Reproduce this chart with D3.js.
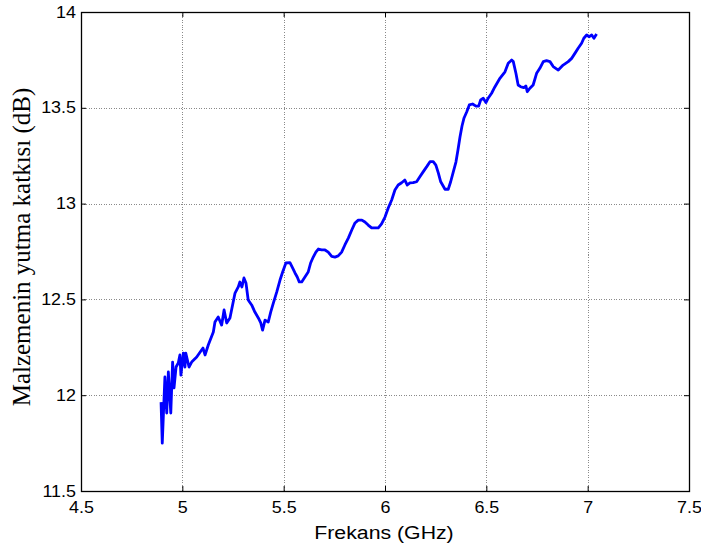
<!DOCTYPE html>
<html>
<head>
<meta charset="utf-8">
<script src="https://cdn.jsdelivr.net/npm/d3@7"></script>
<style>
  html, body { margin: 0; padding: 0; background: #fff; }
  svg { display: block; }
</style>
</head>
<body>
<svg id="chart" width="701" height="549"></svg>
<script>
// Measured absorption curve: frequency (GHz) and value (dB)
const freqGHz = [
  4.895, 4.901, 4.914, 4.923, 4.931, 4.943, 4.952, 4.959, 4.969, 4.980,
  4.988, 4.993, 5.005, 5.013, 5.017, 5.033, 5.046, 5.071, 5.095, 5.102,
  5.112, 5.128, 5.153, 5.161, 5.177, 5.194, 5.206, 5.219, 5.235, 5.260,
  5.276, 5.284, 5.294, 5.304, 5.314, 5.325, 5.342, 5.358, 5.375, 5.387,
  5.396, 5.408, 5.424, 5.436, 5.449, 5.466, 5.482, 5.495, 5.511, 5.531,
  5.544, 5.556, 5.567, 5.577, 5.589, 5.605, 5.621, 5.633, 5.646, 5.659,
  5.671, 5.687, 5.704, 5.720, 5.737, 5.753, 5.769, 5.786, 5.802, 5.819,
  5.836, 5.852, 5.868, 5.886, 5.901, 5.917, 5.934, 5.950, 5.967, 5.983,
  6.000, 6.016, 6.033, 6.049, 6.065, 6.082, 6.098, 6.110, 6.123, 6.139,
  6.156, 6.172, 6.189, 6.206, 6.222, 6.238, 6.251, 6.263, 6.275, 6.287,
  6.296, 6.312, 6.324, 6.337, 6.350, 6.360, 6.370, 6.380, 6.390, 6.403,
  6.416, 6.432, 6.449, 6.462, 6.472, 6.485, 6.498, 6.509, 6.526, 6.542,
  6.567, 6.592, 6.608, 6.625, 6.633, 6.646, 6.657, 6.669, 6.685, 6.695,
  6.702, 6.715, 6.731, 6.748, 6.764, 6.781, 6.797, 6.814, 6.830, 6.855,
  6.879, 6.904, 6.921, 6.937, 6.953, 6.970, 6.981, 6.995, 7.008, 7.020,
  7.031, 7.044
];
const absorptionDb = [
  11.964, 11.750, 12.095, 11.907, 12.121, 11.907, 12.173, 12.038, 12.147, 12.168,
  12.210, 12.105, 12.220, 12.147, 12.220, 12.147, 12.173, 12.199, 12.236, 12.246,
  12.210, 12.262, 12.330, 12.382, 12.408, 12.366, 12.445, 12.377, 12.403, 12.533,
  12.565, 12.591, 12.565, 12.612, 12.586, 12.497, 12.471, 12.434, 12.403, 12.377,
  12.340, 12.392, 12.382, 12.434, 12.481, 12.539, 12.601, 12.643, 12.690, 12.692,
  12.664, 12.638, 12.617, 12.591, 12.591, 12.617, 12.643, 12.690, 12.721, 12.747,
  12.763, 12.758, 12.758, 12.747, 12.724, 12.721, 12.727, 12.747, 12.784, 12.820,
  12.862, 12.899, 12.914, 12.914, 12.904, 12.888, 12.873, 12.873, 12.873, 12.894,
  12.930, 12.977, 13.019, 13.071, 13.097, 13.109, 13.123, 13.097, 13.108, 13.109,
  13.114, 13.140, 13.167, 13.193, 13.219, 13.219, 13.201, 13.160, 13.114, 13.092,
  13.075, 13.075, 13.114, 13.165, 13.217, 13.280, 13.348, 13.405, 13.447, 13.478,
  13.515, 13.520, 13.509, 13.509, 13.541, 13.550, 13.527, 13.550, 13.576, 13.609,
  13.654, 13.688, 13.732, 13.749, 13.741, 13.680, 13.619, 13.610, 13.605, 13.614,
  13.584, 13.602, 13.619, 13.680, 13.706, 13.741, 13.746, 13.741, 13.715, 13.697,
  13.723, 13.741, 13.758, 13.784, 13.811, 13.837, 13.863, 13.880, 13.871, 13.880,
  13.863, 13.885
];

const xTicks = [4.5, 5, 5.5, 6, 6.5, 7, 7.5];
const yTicks = [11.5, 12, 12.5, 13, 13.5, 14];
const xTitle = "Frekans (GHz)";
const yTitle = "Malzemenin yutma katkısı (dB)";

const svg = d3.select("#chart");
const plotLeft = 81, plotRight = 689, plotTop = 12, plotBottom = 491;
const sansFont = "Liberation Sans, Arial, sans-serif";
const wide = 1.12; // horizontal stretch of the sans-serif labels

const x = d3.scaleLinear().domain([4.5, 7.5]).range([plotLeft, plotRight]);
const y = d3.scaleLinear().domain([11.5, 14]).range([plotBottom, plotTop]);

// dotted grid
const grid = svg.append("g")
  .attr("stroke", "#8a8a8a")
  .attr("stroke-width", 1)
  .attr("stroke-dasharray", "1,1.5")
  .attr("shape-rendering", "crispEdges");
grid.selectAll("line.gx").data(xTicks.slice(1, -1)).join("line")
  .attr("class", "gx")
  .attr("x1", d => Math.round(x(d)) + 0.5).attr("x2", d => Math.round(x(d)) + 0.5)
  .attr("y1", plotTop).attr("y2", plotBottom);
grid.selectAll("line.gy").data(yTicks.slice(1, -1)).join("line")
  .attr("class", "gy")
  .attr("y1", d => Math.round(y(d)) + 0.5).attr("y2", d => Math.round(y(d)) + 0.5)
  .attr("x1", plotLeft).attr("x2", plotRight);

// axes with inward ticks on all four sides
const fmt = d => String(d);
const axisStyle = g => {
  g.select(".domain").remove();
  g.selectAll(".tick line").attr("stroke", "#000");
  g.selectAll(".tick text")
    .attr("fill", "#000")
    .attr("font-family", sansFont)
    .attr("font-size", 16)
    .attr("transform", `scale(${wide},1)`);
};

svg.append("g").attr("transform", `translate(0,${plotBottom})`)
  .call(d3.axisBottom(x).tickValues(xTicks).tickFormat(fmt).tickSizeInner(-5).tickPadding(11))
  .call(axisStyle);
svg.append("g").attr("transform", `translate(0,${plotTop})`)
  .call(d3.axisTop(x).tickValues(xTicks).tickFormat("").tickSizeInner(-5))
  .call(axisStyle);
svg.append("g").attr("transform", `translate(${plotLeft},0)`)
  .call(d3.axisLeft(y).tickValues(yTicks).tickFormat(fmt).tickSizeInner(-5).tickPadding(4.5))
  .call(axisStyle);
svg.append("g").attr("transform", `translate(${plotRight},0)`)
  .call(d3.axisRight(y).tickValues(yTicks).tickFormat("").tickSizeInner(-5))
  .call(axisStyle);

// frame
svg.append("rect")
  .attr("x", plotLeft + 0.5).attr("y", plotTop + 0.5)
  .attr("width", plotRight - plotLeft).attr("height", plotBottom - plotTop)
  .attr("fill", "none").attr("stroke", "#000").attr("stroke-width", 1.3);

// curve
const pts = freqGHz.map((f, i) => [f, absorptionDb[i]]);
svg.append("path")
  .datum(pts)
  .attr("fill", "none")
  .attr("stroke", "#0000ff")
  .attr("stroke-width", 2.8)
  .attr("stroke-linejoin", "round")
  .attr("d", d3.line().x(d => x(d[0])).y(d => y(d[1])));

// titles
svg.append("text")
  .attr("transform", `translate(${(plotLeft + plotRight) / 2 - 1},539) scale(${wide},1)`)
  .attr("text-anchor", "middle")
  .attr("font-family", sansFont)
  .attr("font-size", 19)
  .text(xTitle);

svg.append("text")
  .attr("transform", `translate(30,247) rotate(-90)`)
  .attr("text-anchor", "middle")
  .attr("font-family", "Liberation Serif, Times New Roman, serif")
  .attr("font-size", 25)
  .text(yTitle);
</script>
</body>
</html>
